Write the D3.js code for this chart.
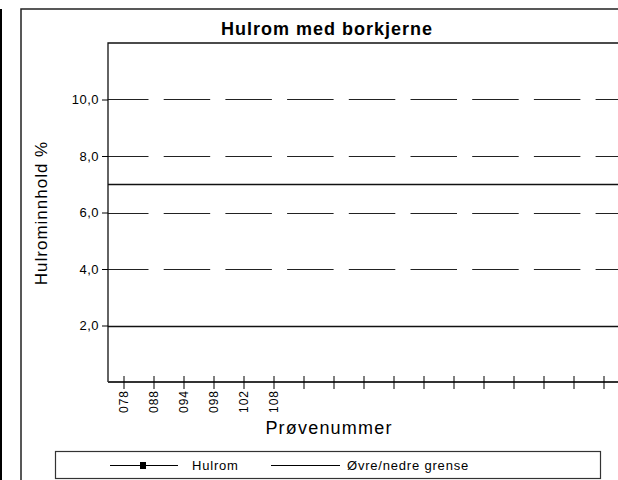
<!DOCTYPE html>
<html lang="no">
<head>
    <meta charset="UTF-8">
    <script src="https://d3js.org/d3.v7.min.js"></script>
    <style>
        body { margin: 0; background: #fff; }
        text { font-family: Arial, "Liberation Sans", sans-serif; }
    </style>
</head>
<body>
    <svg id="chart" width="618" height="480"></svg>
    <script>
        // Prøvenummer på x-aksen (tomme plasser har ingen etikett)
        const tickLabels = ["078", "088", "094", "098", "102", "108",
            "", "", "", "", "", "", "", "", "", "", ""];
        // Hulrom-serien (ingen målepunkter synlig)
        const hulrom = [];
        // Øvre/nedre grense
        const limits = [7.0, 2.0];
        const yTicks = [2, 4, 6, 8, 10];
        const yDomain = [0, 12];

        const width = 618, height = 480;
        const plot = { left: 108, top: 43, right: 619, bottom: 382 };

        const svg = d3.select("#chart");
        const fmt = d => d3.format(".1f")(d).replace(".", ",");

        // venstre kantlinje og ytre ramme
        svg.append("line")
            .attr("x1", 1).attr("x2", 1).attr("y1", 9).attr("y2", height)
            .attr("stroke", "#000").attr("stroke-width", 2);
        svg.append("rect")
            .attr("x", 21).attr("y", 9).attr("width", 700).attr("height", 600)
            .attr("fill", "none").attr("stroke", "#222").attr("stroke-width", 1.5);

        svg.append("text")
            .attr("x", 327).attr("y", 35)
            .attr("text-anchor", "middle")
            .style("font-size", "18px").style("font-weight", "bold")
            .style("letter-spacing", "1px")
            .text("Hulrom med borkjerne");

        const x = d3.scaleBand()
            .domain(tickLabels.map((d, i) => i))
            .range([plot.left + 1, plot.right]);

        const y = d3.scaleLinear()
            .domain(yDomain)
            .range([plot.bottom, plot.top]);

        // rutenett (stiplet)
        svg.append("g").selectAll("line")
            .data(yTicks)
            .enter().append("line")
            .attr("x1", plot.left).attr("x2", width)
            .attr("y1", d => Math.round(y(d)) + 0.5).attr("y2", d => Math.round(y(d)) + 0.5)
            .attr("stroke", "#222")
            .attr("stroke-dasharray", "46.5,15.2")
            .attr("stroke-dashoffset", 6);

        // grenser
        svg.append("g").selectAll("line")
            .data(limits)
            .enter().append("line")
            .attr("x1", plot.left).attr("x2", width)
            .attr("y1", d => Math.round(y(d)) + 0.5).attr("y2", d => Math.round(y(d)) + 0.5)
            .attr("stroke", "#111").attr("stroke-width", 1.3);

        // plottramme
        svg.append("path")
            .attr("d", `M${plot.left},${plot.bottom}V${plot.top}H${width + 5}`)
            .attr("fill", "none").attr("stroke", "#111").attr("stroke-width", 1.3);

        const yAxis = svg.append("g")
            .attr("transform", `translate(${plot.left},0)`)
            .call(d3.axisLeft(y).tickValues(yTicks).tickFormat(fmt).tickSize(6).tickPadding(3));
        yAxis.select(".domain").remove();
        yAxis.selectAll("text").style("font-size", "13px").style("letter-spacing", "0.5px")
            .attr("fill", "#000");

        const xAxis = svg.append("g")
            .attr("transform", `translate(0,${plot.bottom})`)
            .call(d3.axisBottom(x).tickFormat(i => tickLabels[i]).tickSizeOuter(0).tickSizeInner(7));
        xAxis.select(".domain").attr("stroke", "#333").attr("stroke-width", 2)
            .attr("d", `M${plot.left},0H${width + 5}`);
        xAxis.selectAll(".tick line").attr("y1", -6);
        xAxis.selectAll("text")
            .style("font-size", "12px").style("letter-spacing", "1px").attr("fill", "#000")
            .attr("transform", "rotate(-90)")
            .attr("text-anchor", "end")
            .attr("x", -8).attr("y", 0).attr("dy", "0.35em");

        // Hulrom-serie
        svg.append("path")
            .datum(hulrom)
            .attr("fill", "none").attr("stroke", "#000")
            .attr("d", d3.line().x(d => x(d.nr) + x.bandwidth() / 2).y(d => y(d.verdi)));

        svg.append("text")
            .attr("transform", "translate(47,213) rotate(-90)")
            .attr("text-anchor", "middle")
            .style("font-size", "17px").style("letter-spacing", "1px")
            .text("Hulrominnhold %");

        svg.append("text")
            .attr("x", 329).attr("y", 434)
            .attr("text-anchor", "middle")
            .style("font-size", "18px").style("letter-spacing", "1.2px")
            .text("Prøvenummer");

        // tegnforklaring
        const legend = svg.append("g").style("font-size", "13px").style("letter-spacing", "0.8px");
        legend.append("rect")
            .attr("x", 55.5).attr("y", 451.5).attr("width", 545).attr("height", 27)
            .attr("fill", "#fff").attr("stroke", "#333").attr("stroke-width", 1.2);
        legend.append("line").attr("x1", 110).attr("x2", 178).attr("y1", 465.5).attr("y2", 465.5).attr("stroke", "#000");
        legend.append("rect").attr("x", 140).attr("y", 462).attr("width", 6).attr("height", 7).attr("fill", "#000");
        legend.append("text").attr("x", 192).attr("y", 470).text("Hulrom");
        legend.append("line").attr("x1", 271).attr("x2", 340).attr("y1", 465.5).attr("y2", 465.5).attr("stroke", "#000");
        legend.append("text").attr("x", 347).attr("y", 470).text("Øvre/nedre grense");
    </script>
</body>
</html>
